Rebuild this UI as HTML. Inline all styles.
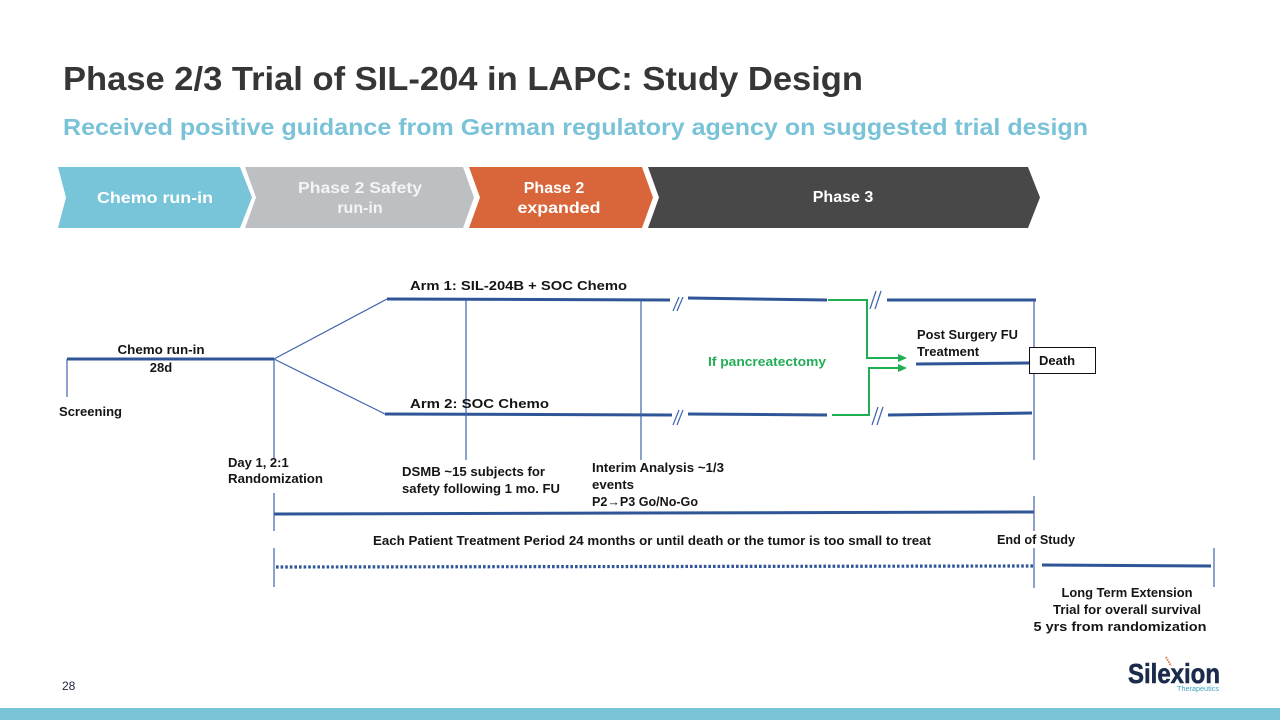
<!DOCTYPE html>
<html><head><meta charset="utf-8">
<style>
html,body{margin:0;padding:0;background:#fff;}
svg{display:block;}
text{font-family:"Liberation Sans",Arial,sans-serif;}
</style></head>
<body>
<svg width="1280" height="720" viewBox="0 0 1280 720" xmlns="http://www.w3.org/2000/svg">
<rect width="1280" height="720" fill="#fff"/>
<!-- Title -->
<text x="63" y="90" font-size="33" font-weight="bold" fill="#363636" textLength="800" lengthAdjust="spacingAndGlyphs">Phase 2/3 Trial of SIL-204 in LAPC: Study Design</text>
<text x="63" y="135" font-size="23" font-weight="bold" fill="#79C2D8" textLength="1025" lengthAdjust="spacingAndGlyphs">Received positive guidance from German regulatory agency on suggested trial design</text>

<!-- Chevrons -->
<polygon points="58,167 240,167 252,197.5 240,228 58,228 66,197.5" fill="#78C4D9"/>
<polygon points="245,167 463,167 474,197.5 463,228 245,228 256,197.5" fill="#BDC0C3"/>
<polygon points="469,167 642,167 653,197.5 642,228 469,228 480,197.5" fill="#D8663A"/>
<polygon points="648,167 1028,167 1040,197.5 1028,228 648,228 659,197.5" fill="#484848"/>
<g font-weight="bold" font-size="16" text-anchor="middle" fill="#fff">
<text x="155" y="203" textLength="116" lengthAdjust="spacingAndGlyphs">Chemo run-in</text>
<text x="360" y="193" fill="#F4F4F4" textLength="124" lengthAdjust="spacingAndGlyphs">Phase 2 Safety</text>
<text x="360" y="213" fill="#F4F4F4">run-in</text>
<text x="554" y="193">Phase 2</text>
<text x="559" y="213" textLength="83" lengthAdjust="spacingAndGlyphs">expanded</text>
<text x="843" y="202">Phase 3</text>
</g>

<!-- Diagram lines -->
<g stroke="#2F5597" stroke-width="3" fill="none" stroke-linecap="butt">
<line x1="67" y1="359" x2="274" y2="359"/>
<line x1="387" y1="299" x2="670" y2="300"/>
<line x1="688" y1="298" x2="827" y2="300"/>
<line x1="887" y1="300" x2="1036" y2="300"/>
<line x1="385" y1="414" x2="672" y2="415"/>
<line x1="688" y1="414" x2="827" y2="415"/>
<line x1="888" y1="415" x2="1032" y2="413"/>
<line x1="916" y1="364" x2="1029" y2="363"/>
<line x1="274" y1="514" x2="1034" y2="512"/>
<line x1="1042" y1="565" x2="1211" y2="566"/>
<line x1="276" y1="567" x2="1033" y2="566" stroke-dasharray="2.6 2" stroke-width="3.2"/>
</g>
<g stroke="#3F64AA" stroke-width="1.2" fill="none">
<line x1="67" y1="359" x2="67" y2="397"/>
<line x1="274" y1="359" x2="274" y2="458"/>
<line x1="274" y1="493" x2="274" y2="531"/>
<line x1="274" y1="548" x2="274" y2="587"/>
<line x1="274" y1="359" x2="387" y2="299"/>
<line x1="274" y1="359" x2="385" y2="414"/>
<line x1="466" y1="300" x2="466" y2="460"/>
<line x1="641" y1="300" x2="641" y2="460"/>
<line x1="1034" y1="300" x2="1034" y2="460"/>
<line x1="1034" y1="496" x2="1034" y2="531"/>
<line x1="1034" y1="548" x2="1034" y2="588"/>
<line x1="1214" y1="548" x2="1214" y2="587"/>
<!-- break marks -->
<line x1="673" y1="311" x2="679" y2="297"/>
<line x1="677" y1="311" x2="683" y2="297"/>
<line x1="673" y1="425" x2="679" y2="410"/>
<line x1="677" y1="425" x2="683" y2="410"/>
<line x1="870" y1="309" x2="876" y2="291"/>
<line x1="875" y1="309" x2="881" y2="291"/>
<line x1="872" y1="425" x2="878" y2="407"/>
<line x1="877" y1="425" x2="883" y2="407"/>
</g>

<!-- Green paths -->
<g stroke="#1FAE52" stroke-width="2" fill="none">
<polyline points="828,300 867,300 867,358 898,358"/>
<polyline points="832,415 869,415 869,368 898,368"/>
</g>
<polygon points="898,354 907,358 898,362" fill="#1FAE52"/>
<polygon points="898,364 907,368 898,372" fill="#1FAE52"/>

<!-- Death box -->
<rect x="1029.5" y="347.5" width="66" height="26" fill="#fff" stroke="#111" stroke-width="1"/>
<text x="1039" y="365" font-size="13" font-weight="bold" fill="#111">Death</text>

<!-- Labels -->
<g font-size="13" font-weight="bold" fill="#151515">
<text x="410" y="290" textLength="217" lengthAdjust="spacingAndGlyphs">Arm 1: SIL-204B + SOC Chemo</text>
<text x="410" y="408" textLength="139" lengthAdjust="spacingAndGlyphs">Arm 2: SOC Chemo</text>
<text x="161" y="354" text-anchor="middle" textLength="87" lengthAdjust="spacingAndGlyphs">Chemo run-in</text>
<text x="161" y="372" text-anchor="middle">28d</text>
<text x="59" y="416" textLength="63" lengthAdjust="spacingAndGlyphs">Screening</text>
<text x="228" y="467">Day 1, 2:1</text>
<text x="228" y="483" textLength="95" lengthAdjust="spacingAndGlyphs">Randomization</text>
<text x="402" y="476" font-size="12.5" textLength="143" lengthAdjust="spacingAndGlyphs">DSMB ~15 subjects for</text>
<text x="402" y="493" font-size="12.5" textLength="158" lengthAdjust="spacingAndGlyphs">safety following 1 mo. FU</text>
<text x="592" y="472" font-size="12.5" textLength="132" lengthAdjust="spacingAndGlyphs">Interim Analysis ~1/3</text>
<text x="592" y="489" font-size="12.5" textLength="42" lengthAdjust="spacingAndGlyphs">events</text>
<text x="592" y="506" font-size="12.5" textLength="106" lengthAdjust="spacingAndGlyphs">P2→P3 Go/No-Go</text>
<text x="708" y="366" font-size="12.5" fill="#22AD55" textLength="118" lengthAdjust="spacingAndGlyphs">If pancreatectomy</text>
<text x="917" y="339" textLength="101" lengthAdjust="spacingAndGlyphs">Post Surgery FU</text>
<text x="917" y="356">Treatment</text>
<text x="373" y="545" font-size="12.5" textLength="558" lengthAdjust="spacingAndGlyphs">Each Patient Treatment Period 24 months or until death or the tumor is too small to treat</text>
<text x="997" y="544" font-size="12.5" textLength="78" lengthAdjust="spacingAndGlyphs">End of Study</text>
<text x="1127" y="597" text-anchor="middle" textLength="131" lengthAdjust="spacingAndGlyphs">Long Term Extension</text>
<text x="1127" y="614" text-anchor="middle" textLength="148" lengthAdjust="spacingAndGlyphs">Trial for overall survival</text>
<text x="1120" y="631" text-anchor="middle" textLength="173" lengthAdjust="spacingAndGlyphs">5 yrs from randomization</text>
</g>

<!-- page number -->
<text x="62" y="690" font-size="12" fill="#1a2540">28</text>

<!-- logo -->
<text x="1128" y="683" font-size="28" font-weight="bold" fill="#1B2B4B" stroke="#1B2B4B" stroke-width="0.6" textLength="92" lengthAdjust="spacingAndGlyphs">Silexion</text>
<line x1="1166" y1="657" x2="1171" y2="666" stroke="#D9794A" stroke-width="2" stroke-dasharray="1.5 1"/>
<text x="1177" y="691" font-size="7" fill="#3AA6C2" textLength="42" lengthAdjust="spacingAndGlyphs">Therapeutics</text>

<!-- bottom bar -->
<rect x="0" y="708" width="1280" height="12" fill="#78C3D6"/>
</svg>
</body></html>
